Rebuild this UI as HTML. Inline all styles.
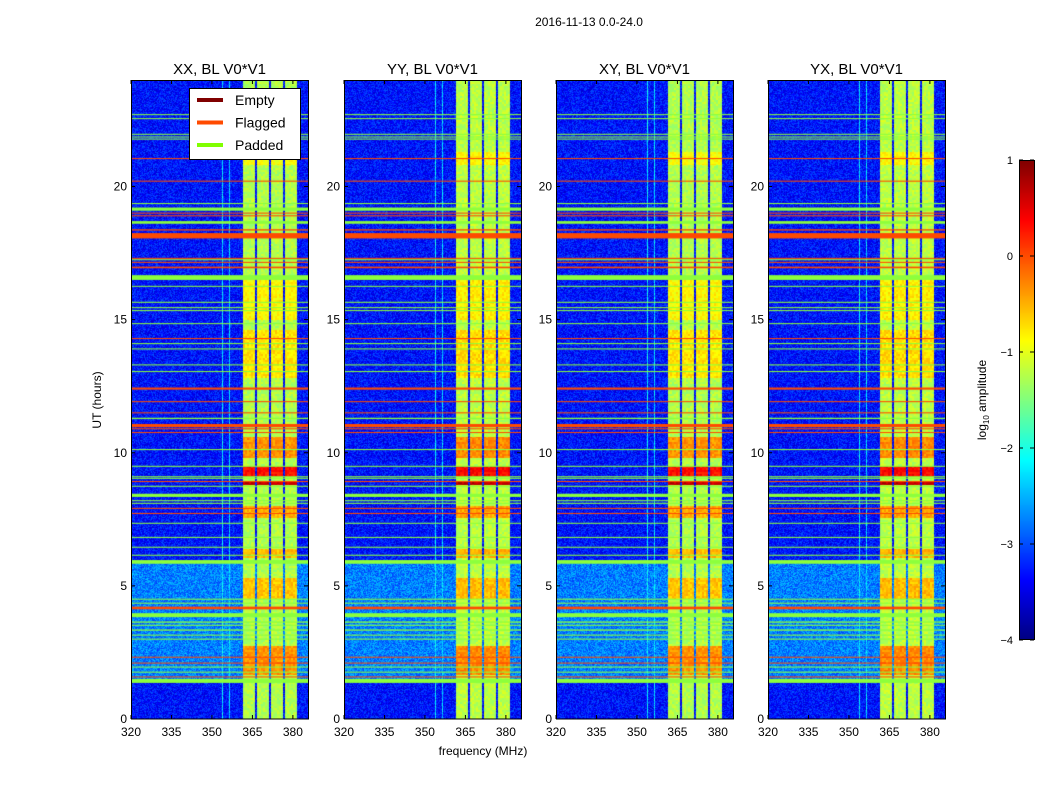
<!DOCTYPE html>
<html><head><meta charset="utf-8">
<style>
body{margin:0;background:#fff;width:1050px;height:800px;overflow:hidden;position:relative;font-family:"Liberation Sans",sans-serif}
canvas{position:absolute}
svg{position:absolute;left:0;top:0}
</style></head>
<body>
<div>
<canvas id="c0" width="177" height="639" style="left:131px;top:80px"></canvas>
<canvas id="c1" width="177" height="639" style="left:344px;top:80px"></canvas>
<canvas id="c2" width="177" height="639" style="left:556px;top:80px"></canvas>
<canvas id="c3" width="177" height="639" style="left:768px;top:80px"></canvas>
<canvas id="cb" width="15" height="480" style="left:1019px;top:160px"></canvas>
<svg id="ov" width="1050" height="800" font-family="Liberation Sans, sans-serif"></svg>
</div>
<script>
// ---- data ----
const panelTitles = ["XX, BL V0*V1","YY, BL V0*V1","XY, BL V0*V1","YX, BL V0*V1"];
const panelGain = [0, 0.05, 0, 0.05];
const xTicks = [320,335,350,365,380];
const yTicks = [0,5,10,15,20];
const cbTicks = [1,0,-1,-2,-3,-4];
// band sub-columns [f0,f1] in MHz
const bandCols = [[361.5,366.0],[366.8,371.2],[372.0,376.4],[377.2,381.5]];
const bandLevel = -1.25;
const bgLevel = -3.3;
// background time segments [t0,t1,level]
const bgSegments = [[1.45,5.9,-2.75]];
// hot spots in band [t0,t1,level]
const hotSpots = [[1.65,2.75,-0.35],[4.5,5.3,-0.6],[6.05,6.4,-0.55],[7.55,8.0,-0.5],[8.8,8.95,0.65],[9.1,9.5,0.3],[9.8,10.6,-0.35],[12.8,14.6,-0.75],[15.0,16.5,-0.85],[20.8,21.3,-0.9]];
// faint vertical lines [freq, level]
const vLines = [[354.0,-2.2],[356.6,-2.3]];
// flags: [hour, thickness(hours), type] type 1=flagged, 2=padded
const flags = [[22.7,0.04,2],[22.55,0.04,2],[21.96,0.04,2],[21.86,0.04,2],[21.78,0.04,2],[21.05,0.04,1],[20.2,0.04,1],[19.36,0.04,2],[19.15,0.12,2],[19.0,0.04,1],[18.9,0.04,1],[18.65,0.1,2],[18.37,0.05,1],[18.15,0.2,1],[17.3,0.04,1],[17.25,0.04,2],[17.15,0.04,1],[16.96,0.06,1],[16.58,0.18,2],[16.25,0.04,2],[15.65,0.04,2],[15.45,0.04,2],[15.34,0.04,2],[14.85,0.04,2],[14.29,0.04,1],[14.1,0.04,2],[13.9,0.04,2],[13.3,0.04,2],[13.05,0.04,2],[12.41,0.08,1],[11.92,0.04,1],[11.5,0.04,1],[11.29,0.05,2],[11.02,0.12,1],[10.9,0.04,1],[10.76,0.04,1],[10.12,0.04,2],[9.49,0.04,2],[9.1,0.04,2],[9.04,0.04,2],[8.92,0.04,1],[8.74,0.04,2],[8.4,0.12,2],[8.2,0.04,2],[8.1,0.04,2],[7.91,0.04,1],[7.72,0.04,1],[7.35,0.04,2],[6.82,0.04,2],[6.45,0.04,2],[6.15,0.04,2],[5.9,0.14,2],[4.5,0.04,2],[4.35,0.04,2],[4.17,0.1,1],[3.9,0.15,2],[3.64,0.05,2],[3.52,0.04,2],[3.34,0.05,2],[3.15,0.04,2],[3.0,0.04,2],[2.32,0.04,1],[2.1,0.04,1],[1.95,0.04,2],[1.76,0.04,2],[1.58,0.04,1],[1.43,0.15,2]];
const flagColors = {1:"#ff4a00",2:"#8cff3c"};
// ---- axes ----
const panelsX=[131,344,556,768], PW=177, PT=80, PH=639, PB=719;
const fMin=320, fMax=385.6, tMin=0, tMax=24;
function xs(f){return (f-fMin)/(fMax-fMin)*PW;}
function ys(t){return PB-(t-tMin)/(tMax-tMin)*PH;}
function jet(v){v=Math.max(0,Math.min(1,v));const c=x=>Math.round(255*Math.max(0,Math.min(1,x)));
 return [c(1.5-Math.abs(4*v-3)),c(1.5-Math.abs(4*v-2)),c(1.5-Math.abs(4*v-1))];}
function lv(l){return (l+4)/5;}
function hash(a,b){let h=(a*374761393+b*668265263)^0x5bd1e995;h=(h^(h>>>13))*1274126177;return ((h^(h>>>16))>>>0)/4294967296;}
function level(f,t,p,i,j){
 let inBand=bandCols.some(c=>f>=c[0]&&f<=c[1]);
 let l=bgLevel;
 bgSegments.forEach(s=>{if(t>=s[0]&&t<=s[1])l=s[2];});
 vLines.forEach(v=>{if(Math.abs(f-v[0])<0.25)l=Math.max(l,v[1]);});
 if(inBand){l=bandLevel+panelGain[p];hotSpots.forEach(h=>{if(t>=h[0]&&t<=h[1])l=Math.max(l,h[2]+panelGain[p]);});
  l+=(hash(i>>1,j>>1)-0.5)*0.35;}
 else l+=(hash(i+p*999,j)-0.5)*0.7;
 return l;
}
for(let p=0;p<4;p++){
 const cv=document.getElementById('c'+p),ctx=cv.getContext('2d');const im=ctx.createImageData(PW,PH);
 for(let j=0;j<PH;j++){const t=tMax-(j+0.5)/PH*(tMax-tMin);
  for(let i=0;i<PW;i++){const f=fMin+(i+0.5)/PW*(fMax-fMin);const c=jet(lv(level(f,t,p,i,j)));const k=(j*PW+i)*4;im.data[k]=c[0];im.data[k+1]=c[1];im.data[k+2]=c[2];im.data[k+3]=255;}}
 ctx.putImageData(im,0,0);
 flags.forEach(fl=>{ctx.fillStyle=flagColors[fl[2]];const y0=ys(fl[0]+fl[1]/2)-PT,y1=ys(fl[0]-fl[1]/2)-PT;ctx.fillRect(0,y0,PW,Math.max(1,y1-y0));});
}
{const cv=document.getElementById('cb'),ctx=cv.getContext('2d');for(let j=0;j<480;j++){const c=jet(1-j/480);ctx.fillStyle=`rgb(${c})`;ctx.fillRect(0,j,15,1);}}
// ---- svg overlay ----
const svg=document.getElementById('ov');const NS="http://www.w3.org/2000/svg";
function el(tag,attrs,txt){const e=document.createElementNS(NS,tag);for(const k in attrs)e.setAttribute(k,attrs[k]);if(txt!==undefined)e.textContent=txt;svg.appendChild(e);return e;}
let e=el('text',{x:589,y:26,'text-anchor':'middle','font-size':12},'2016-11-13 0.0-24.0');

panelsX.forEach((px,p)=>{
 let r=el('rect',{x:px+0.5,y:PT+0.5,width:PW,height:PH-0.5,fill:'none',stroke:'#000','stroke-width':1});
 
 let t=el('text',{x:px+PW/2,y:74,'text-anchor':'middle','font-size':15},panelTitles[p]);
 
 xTicks.forEach(v=>{const x=px+xs(v);el('line',{x1:x,x2:x,y1:PB,y2:PB-4,stroke:'#000'});el('line',{x1:x,x2:x,y1:PT,y2:PT+4,stroke:'#000'});
  let l=el('text',{x:x,y:736,'text-anchor':'middle','font-size':12},v);});
 yTicks.forEach(v=>{const y=ys(v);el('line',{x1:px,x2:px+4,y1:y,y2:y,stroke:'#000'});el('line',{x1:px+PW,x2:px+PW-4,y1:y,y2:y,stroke:'#000'});
  let l=el('text',{x:px-4,y:y+4,'text-anchor':'end','font-size':12},v);});
});
e=el('text',{x:483,y:755,'text-anchor':'middle','font-size':12},'frequency (MHz)');
e=el('text',{x:0,y:0,'text-anchor':'middle','font-size':12,transform:'translate(101,400) rotate(-90)'},'UT (hours)');
// legend
e=el('rect',{x:189.5,y:88.5,width:111,height:71,fill:'#fff',stroke:'#000'});
[['Empty','#800000'],['Flagged','#ff4a00'],['Padded','#80ff00']].forEach((d,k)=>{const y=100+k*22.5;
 el('line',{x1:197,x2:223,y1:y,y2:y,stroke:d[1],'stroke-width':4});
 let t=el('text',{x:235,y:y+5,'font-size':14},d[0]);});
// colorbar
el('rect',{x:1019.5,y:160.5,width:15,height:479,fill:'none',stroke:'#000'});
cbTicks.forEach(v=>{const y=160+(1-v)/5*480;el('line',{x1:1019,x2:1023,y1:y,y2:y,stroke:'#000'});el('line',{x1:1034,x2:1030,y1:y,y2:y,stroke:'#000'});
 let l=el('text',{x:1013,y:y+4,'text-anchor':'end','font-size':11},v<0?'\u2212'+(-v):v);});
e=el('text',{x:0,y:0,'text-anchor':'middle','font-size':12,transform:'translate(986,400) rotate(-90)'});
e.innerHTML='log<tspan font-size="8" dy="3">10</tspan><tspan dy="-3"> amplitude</tspan>';

</script>
</body></html>
